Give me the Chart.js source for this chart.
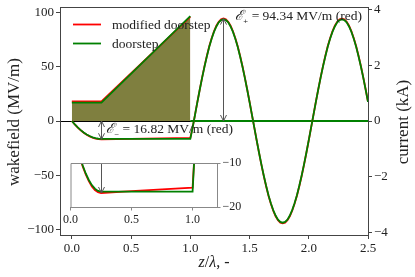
<!DOCTYPE html>
<html>
<head>
<meta charset="utf-8">
<script src="https://cdn.jsdelivr.net/npm/chart.js@4.4.1/dist/chart.umd.min.js"></script>
<style>
  html, body { margin: 0; padding: 0; background: #fff; }
  #wrap { position: relative; width: 415px; height: 277px; }
  #main { position: absolute; left: 0; top: 0; }
  #inset { position: absolute; left: 58px; top: 155px; }
</style>
</head>
<body>
<div id="wrap">
  <canvas id="main" width="415" height="277"></canvas>
  <canvas id="inset" width="186" height="73"></canvas>
</div>
<script>
// Doorstep vs modified doorstep: wakefield (left axis) and current (right axis)

const zWake = [0, 0.025, 0.05, 0.075, 0.1, 0.125, 0.15, 0.175, 0.2, 0.225, 0.25, 0.5, 0.75, 1.0,
    1.02, 1.04, 1.06, 1.08, 1.1, 1.12, 1.14, 1.16, 1.18, 1.2,
    1.22, 1.24, 1.26, 1.28, 1.3, 1.32, 1.34, 1.36, 1.38, 1.4,
    1.42, 1.44, 1.46, 1.48, 1.5, 1.52, 1.54, 1.56, 1.58, 1.6,
    1.62, 1.64, 1.66, 1.68, 1.7, 1.72, 1.74, 1.76, 1.78, 1.8,
    1.82, 1.84, 1.86, 1.88, 1.9, 1.92, 1.94, 1.96, 1.98, 2.0,
    2.02, 2.04, 2.06, 2.08, 2.1, 2.12, 2.14, 2.16, 2.18, 2.2,
    2.22, 2.24, 2.26, 2.28, 2.3, 2.32, 2.34, 2.36, 2.38, 2.4,
    2.42, 2.44, 2.46, 2.48, 2.5];

// wakefield, MV/m
const wakeModified = [0, -3.2, -6.06, -8.58, -10.76, -12.62, -14.13, -15.31, -16.15, -16.65, -16.82, -16.4, -16.0, -15.6,
    -5.9, 5.9, 17.7, 29.2, 40.2, 50.6, 60.1, 68.8, 76.3, 82.7,
    87.7, 91.4, 93.6, 94.34, 93.6, 91.4, 87.7, 82.7, 76.3, 68.8,
    60.1, 50.6, 40.2, 29.2, 17.7, 5.9, -5.9, -17.7, -29.2, -40.2,
    -50.6, -60.1, -68.8, -76.3, -82.7, -87.7, -91.4, -93.6, -94.3, -93.6,
    -91.4, -87.7, -82.7, -76.3, -68.8, -60.1, -50.6, -40.2, -29.2, -17.7,
    -5.9, 5.9, 17.7, 29.2, 40.2, 50.6, 60.1, 68.8, 76.3, 82.7,
    87.7, 91.4, 93.6, 94.3, 93.6, 91.4, 87.7, 82.7, 76.3, 68.8,
    60.1, 50.6, 40.2, 29.2, 17.7];

const wakeDoorstep = [0, -3.14, -5.94, -8.42, -10.56, -12.38, -13.86, -15.02, -15.84, -16.34, -16.5, -16.5, -16.5, -16.5,
    -5.9, 5.9, 17.6, 29.0, 39.9, 50.2, 59.7, 68.3, 75.8, 82.1,
    87.1, 90.8, 93.0, 93.7, 93.0, 90.8, 87.1, 82.1, 75.8, 68.3,
    59.7, 50.2, 39.9, 29.0, 17.6, 5.9, -5.9, -17.6, -29.0, -39.9,
    -50.2, -59.7, -68.3, -75.8, -82.1, -87.1, -90.8, -93.0, -93.7, -93.0,
    -90.8, -87.1, -82.1, -75.8, -68.3, -59.7, -50.2, -39.9, -29.0, -17.6,
    -5.9, 5.9, 17.6, 29.0, 39.9, 50.2, 59.7, 68.3, 75.8, 82.1,
    87.1, 90.8, 93.0, 93.7, 93.0, 90.8, 87.1, 82.1, 75.8, 68.3,
    59.7, 50.2, 39.9, 29.0, 17.6];

// current, kA (null = break in the line, no vertical edges drawn)
const zCurrent = [0, 0.25, 1.0, 1.0, 1.0, 2.5];
const currentModified = [0.70, 0.70, 3.73, null, null, null];
const currentDoorstep = [0.66, 0.66, 3.75, null, 0, 0];

// annotated extremes (red curve)
const ePlus = 94.34, zPlus = 1.28;
const eMinus = 16.82, zMinus = 0.25;

const xTicks = { min: -0.1, max: 2.5, step: 0.5 };
const wakeTicks = { min: -105, max: 105, step: 50 };
const currentTicks = { min: -4.08, max: 4.08, step: 2 };
const insetX = { min: 0, max: 1.2, step: 0.5 };
const insetY = { min: -20, max: -10, step: 10 };

const SERIF = "'Liberation Serif', 'DejaVu Serif', serif";
const RED = '#ff0000', GREEN = '#008000';
const INK = '#222';

function pts(xs, ys) { return xs.map((x, i) => ({ x: x, y: ys[i] })); }

function lineSet(label, xs, ys, color, extra) {
    return Object.assign({
        label: label, data: pts(xs, ys), borderColor: color, backgroundColor: color,
        borderWidth: 1.8, pointRadius: 0, tension: 0, fill: false, clip: 0, spanGaps: false
    }, extra || {});
}

// area under a current profile only, no outline
function areaSet(label, xs, ys, rgba) {
    return lineSet(label, xs, ys, 'rgba(0,0,0,0)',
        { yAxisID: 'y1', fill: 'origin', backgroundColor: rgba, borderWidth: 0 });
}

const fixed = (w, h) => s => {
    if (w != null) s.width = w;
    if (h != null) s.height = h;
    s.paddingTop = s.paddingBottom = s.paddingLeft = s.paddingRight = 0;
};
const minus = v => (v < 0 ? '\u2212' + Math.abs(v) : String(v));
const oneDec = v => v.toFixed(1);

function scaleOpts(lim, position, fit, fmt, tickFont, lineColor, tickLen) {
    return {
        type: 'linear', min: lim.min, max: lim.max, position: position, afterFit: fit,
        grid: { display: true, drawOnChartArea: false, drawTicks: true, tickLength: tickLen, tickColor: lineColor, tickWidth: 1 },
        border: { display: true, color: lineColor, width: 1 },
        ticks: { stepSize: lim.step, includeBounds: false, autoSkip: false, maxRotation: 0, callback: fmt,
                 font: { family: SERIF, size: tickFont }, color: INK, padding: 2 }
    };
}

function drawRuns(ctx, x, y, runs) {
    for (const r of runs) {
        ctx.font = r.font;
        ctx.fillText(r.t, x, y + (r.dy || 0));
        x += ctx.measureText(r.t).width;
    }
    return x;
}
function runsWidth(ctx, runs) {
    let w = 0;
    for (const r of runs) { ctx.font = r.font; w += ctx.measureText(r.t).width; }
    return w;
}

function arrowHead(ctx, x, tipY, dir) {
    // dir = -1 points up, +1 points down
    ctx.beginPath();
    ctx.moveTo(x - 3, tipY - dir * 6);
    ctx.lineTo(x, tipY);
    ctx.lineTo(x + 3, tipY - dir * 6);
    ctx.stroke();
}

function vArrow(ctx, x, yFrom, yTo, bothEnds) {
    ctx.beginPath();
    ctx.moveTo(x, yFrom);
    ctx.lineTo(x, yTo);
    ctx.stroke();
    const dir = yTo > yFrom ? 1 : -1;
    arrowHead(ctx, x, yTo, dir);
    if (bothEnds) arrowHead(ctx, x, yFrom, -dir);
}

function eLabel(sub, val) {
    return [
        { t: '\u2130', font: 'italic 14px ' + SERIF },
        { t: sub, font: '10px ' + SERIF, dy: 3 },
        { t: ' = ' + val.toFixed(2) + ' MV/m (red)', font: '13.5px ' + SERIF }
    ];
}

const mainOverlay = {
    id: 'mainOverlay',
    beforeDraw(chart) {
        const { ctx, chartArea: a, scales } = chart;
        const y0 = Math.round(scales.y.getPixelForValue(0)) + 0.5;
        ctx.save();
        ctx.strokeStyle = '#000';
        ctx.lineWidth = 1.2;
        ctx.beginPath(); ctx.moveTo(a.left, y0); ctx.lineTo(a.right, y0); ctx.stroke();
        ctx.restore();
    },
    afterDatasetsDraw(chart) {
        const { ctx, scales } = chart;
        ctx.save();
        ctx.strokeStyle = '#555';
        ctx.lineWidth = 1;
        const y0 = scales.y.getPixelForValue(0);
        const xp = Math.round(scales.x.getPixelForValue(zPlus)) + 0.5;
        vArrow(ctx, xp, y0, scales.y.getPixelForValue(ePlus), true);
        const xm = Math.round(scales.x.getPixelForValue(zMinus)) + 0.5;
        vArrow(ctx, xm, y0, scales.y.getPixelForValue(-eMinus), true);
        ctx.restore();
    },
    afterDraw(chart) {
        const { ctx, chartArea: a, scales } = chart;
        ctx.save();
        // top spine
        ctx.strokeStyle = '#444';
        ctx.lineWidth = 1;
        ctx.beginPath(); ctx.moveTo(a.left, a.top + 0.5); ctx.lineTo(a.right, a.top + 0.5); ctx.stroke();

        // legend
        const legend = [['modified doorstep', RED], ['doorstep', GREEN]];
        ctx.textBaseline = 'middle';
        legend.forEach((it, i) => {
            const ly = a.top + 17.5 + i * 19;
            ctx.strokeStyle = it[1];
            ctx.lineWidth = 1.8;
            ctx.beginPath(); ctx.moveTo(a.left + 13, ly); ctx.lineTo(a.left + 41, ly); ctx.stroke();
            ctx.fillStyle = INK;
            ctx.font = '13.5px ' + SERIF;
            ctx.fillText(it[0], a.left + 52, ly + 1);
        });

        // annotations
        ctx.textBaseline = 'alphabetic';
        ctx.fillStyle = INK;
        drawRuns(ctx, scales.x.getPixelForValue(zPlus) + 11.5, a.top + 12.5, eLabel('\u208A', ePlus));
        drawRuns(ctx, scales.x.getPixelForValue(zMinus) + 4.5, scales.y.getPixelForValue(0) + 12, eLabel('\u208B', eMinus));

        // axis titles
        ctx.textBaseline = 'middle';
        ctx.textAlign = 'center';
        ctx.font = '17px ' + SERIF;
        const midY = (a.top + a.bottom) / 2;
        ctx.save(); ctx.translate(15, midY + 1); ctx.rotate(-Math.PI / 2); ctx.fillText('wakefield (MV/m)', 0, 0); ctx.restore();
        ctx.save(); ctx.translate(404, midY + 1); ctx.rotate(-Math.PI / 2); ctx.fillText('current (kA)', 0, 0); ctx.restore();

        ctx.textAlign = 'left';
        ctx.textBaseline = 'alphabetic';
        const xt = [
            { t: 'z', font: 'italic 16px ' + SERIF },
            { t: '/', font: '16px ' + SERIF },
            { t: '\u03BB', font: 'italic 16px ' + SERIF },
            { t: ', -', font: '16px ' + SERIF }
        ];
        drawRuns(ctx, 214 - runsWidth(ctx, xt) / 2, 267, xt);
        ctx.restore();
    }
};

new Chart(document.getElementById('main'), {
    type: 'line',
    data: {
        datasets: [
            lineSet('doorstep', zWake, wakeDoorstep, GREEN),
            lineSet('modified doorstep', zWake, wakeModified, RED),
            lineSet('doorstep current', zCurrent, currentDoorstep, GREEN, { yAxisID: 'y1' }),
            lineSet('modified doorstep current', zCurrent, currentModified, RED, { yAxisID: 'y1' }),
            areaSet('doorstep area', zCurrent, currentDoorstep, 'rgba(0,128,0,0.5)'),
            areaSet('modified doorstep area', zCurrent, currentModified, 'rgba(255,0,0,0.5)')
        ]
    },
    options: {
        responsive: false,
        animation: false,
        devicePixelRatio: 1,
        layout: { padding: { top: 7, left: 0, right: 0, bottom: 0 } },
        plugins: {
            legend: { display: false },
            tooltip: { enabled: false },
            filler: { drawTime: 'beforeDatasetsDraw' }
        },
        scales: {
            x: scaleOpts(xTicks, 'bottom', fixed(null, 42), oneDec, 13, '#444', 4),
            y: scaleOpts(wakeTicks, 'left', fixed(60, null), minus, 13, '#444', 4),
            y1: scaleOpts(currentTicks, 'right', fixed(47, null), minus, 13, '#444', 4)
        }
    },
    plugins: [mainOverlay]
});
</script>
<script>
// zoomed inset of the flat-top region
const insetOverlay = {
    id: 'insetOverlay',
    afterDatasetsDraw(chart) {
        const { ctx, chartArea: a, scales } = chart;
        ctx.save();
        ctx.beginPath();
        ctx.rect(a.left, a.top, a.right - a.left, a.bottom - a.top);
        ctx.clip();
        ctx.strokeStyle = '#555';
        ctx.lineWidth = 1;
        const xm = Math.round(scales.x.getPixelForValue(zMinus)) + 0.5;
        vArrow(ctx, xm, scales.y.getPixelForValue(0), scales.y.getPixelForValue(-eMinus), false);
        ctx.restore();
    },
    afterDraw(chart) {
        const { ctx, chartArea: a } = chart;
        ctx.save();
        ctx.strokeStyle = '#888';
        ctx.lineWidth = 1;
        ctx.beginPath();
        ctx.moveTo(a.left + 0.5, a.bottom);
        ctx.lineTo(a.left + 0.5, a.top + 0.5);
        ctx.lineTo(a.right, a.top + 0.5);
        ctx.stroke();
        ctx.restore();
    }
};

new Chart(document.getElementById('inset'), {
    type: 'line',
    data: {
        datasets: [
            lineSet('doorstep', zWake, wakeDoorstep, GREEN),
            lineSet('modified doorstep', zWake, wakeModified, RED)
        ]
    },
    options: {
        responsive: false,
        animation: false,
        devicePixelRatio: 1,
        layout: { padding: { top: 8, left: 12.5, right: 0, bottom: 0 } },
        plugins: { legend: { display: false }, tooltip: { enabled: false } },
        scales: {
            x: scaleOpts(insetX, 'bottom', fixed(null, 21), oneDec, 12, '#888', 3.5),
            y: scaleOpts(insetY, 'right', fixed(27, null), minus, 12, '#888', 3.5)
        }
    },
    plugins: [insetOverlay]
});
</script>
</body>
</html>
